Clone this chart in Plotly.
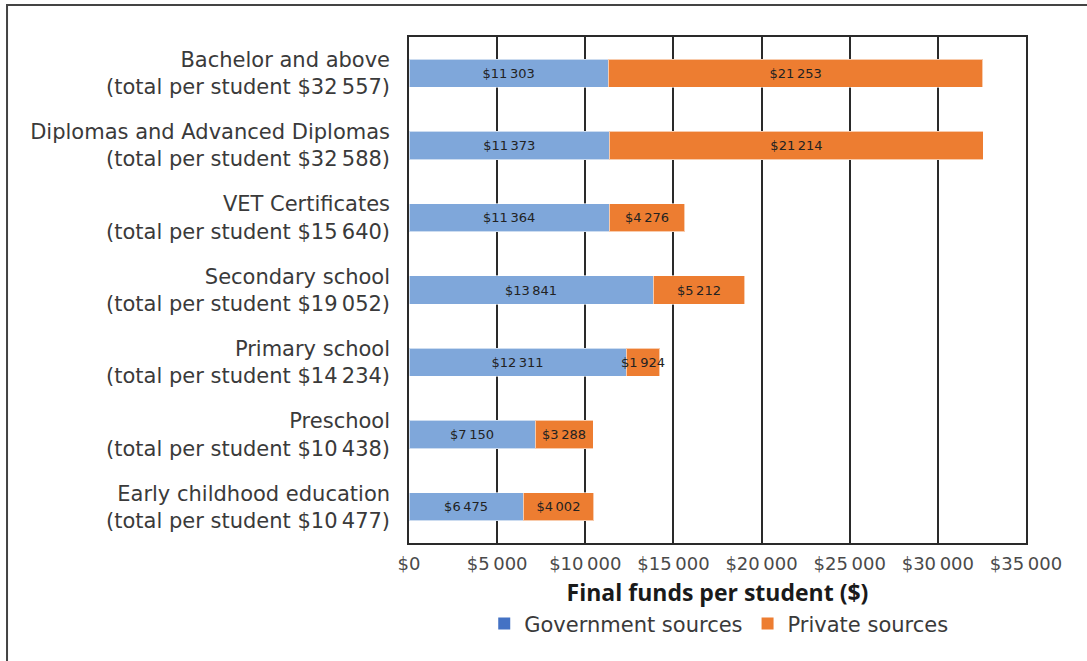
import plotly.graph_objects as go

# Funding per student by education sector
sectors = [
    "Bachelor and above",
    "Diplomas and Advanced Diplomas",
    "VET Certificates",
    "Secondary school",
    "Primary school",
    "Preschool",
    "Early childhood education",
]
totals = [32557, 32588, 15640, 19052, 14234, 10438, 10477]
government = [11303, 11373, 11364, 13841, 12311, 7150, 6475]
private = [21253, 21214, 4276, 5212, 1924, 3288, 4002]

tick_values = [0, 5000, 10000, 15000, 20000, 25000, 30000, 35000]

BAR_BLUE = "#7fa7da"
BAR_ORANGE = "#ed7d31"
LEG_BLUE = "#4472c4"
LEG_ORANGE = "#ed7d31"
TEXT = "#3a3a3a"
FONT = "DejaVu Sans"
SEP = "\u2009"


def money(v):
    return "$" + f"{v:,}".replace(",", SEP)


labels = [f"{s}<br>(total per student {money(t)})" for s, t in zip(sectors, totals)]

fig = go.Figure()
for name, vals, color in [("Government sources", government, BAR_BLUE),
                          ("Private sources", private, BAR_ORANGE)]:
    fig.add_trace(go.Bar(
        y=labels, x=vals, orientation="h", name=name,
        marker=dict(color=color, line=dict(color="rgba(255,255,255,0.6)", width=1)),
        text=[money(v) for v in vals], textposition="inside",
        insidetextanchor="middle", constraintext="none",
        textfont=dict(family=FONT, size=13, color="#222"),
        showlegend=False, hoverinfo="skip",
    ))

# legend entries with solid square swatches
for name, color in [("Government sources", LEG_BLUE), ("Private sources", LEG_ORANGE)]:
    fig.add_trace(go.Scatter(
        x=[None], y=[None], mode="markers", name=name,
        marker=dict(symbol="square", size=9, color=color),
    ))

# outer frame (left and top edges)
fig.add_shape(type="path", xref="paper", yref="paper",
              path="M -0.6515 -0.4 L -0.6515 1.0632 L 1.2 1.0632",
              line=dict(color="#444", width=2))

fig.update_layout(
    width=1087, height=661,
    margin=dict(l=409, r=61, t=37, b=118),
    paper_bgcolor="white", plot_bgcolor="white",
    barmode="stack", bargap=0.61,
    font=dict(family=FONT, color=TEXT),
    legend=dict(orientation="h", x=0.502, xanchor="center", y=-0.16, yanchor="middle",
                font=dict(size=21, color=TEXT), itemsizing="constant",
                traceorder="normal", itemwidth=30),
    xaxis=dict(
        range=[0, 35000], tickvals=tick_values,
        ticktext=[money(v) for v in tick_values],
        tickfont=dict(size=18, color="#4a4a4a"),
        showgrid=True, gridcolor="#2a2a2a", gridwidth=1.5,
        showline=True, linecolor="#2a2a2a", linewidth=1.5, mirror=True,
        zeroline=False, ticks="", ticklabelstandoff=4,
        title=dict(text="<b>Final funds per student ($)</b>",
                   font=dict(family="Open Sans", size=23, color="#1a1a1a"), standoff=12),
    ),
    yaxis=dict(
        autorange="reversed", tickfont=dict(size=21, color=TEXT),
        ticks="", ticklabelstandoff=13, showgrid=False,
        showline=True, linecolor="#2a2a2a", linewidth=1.5, mirror=True,
    ),
)

fig.write_html("out.html")
